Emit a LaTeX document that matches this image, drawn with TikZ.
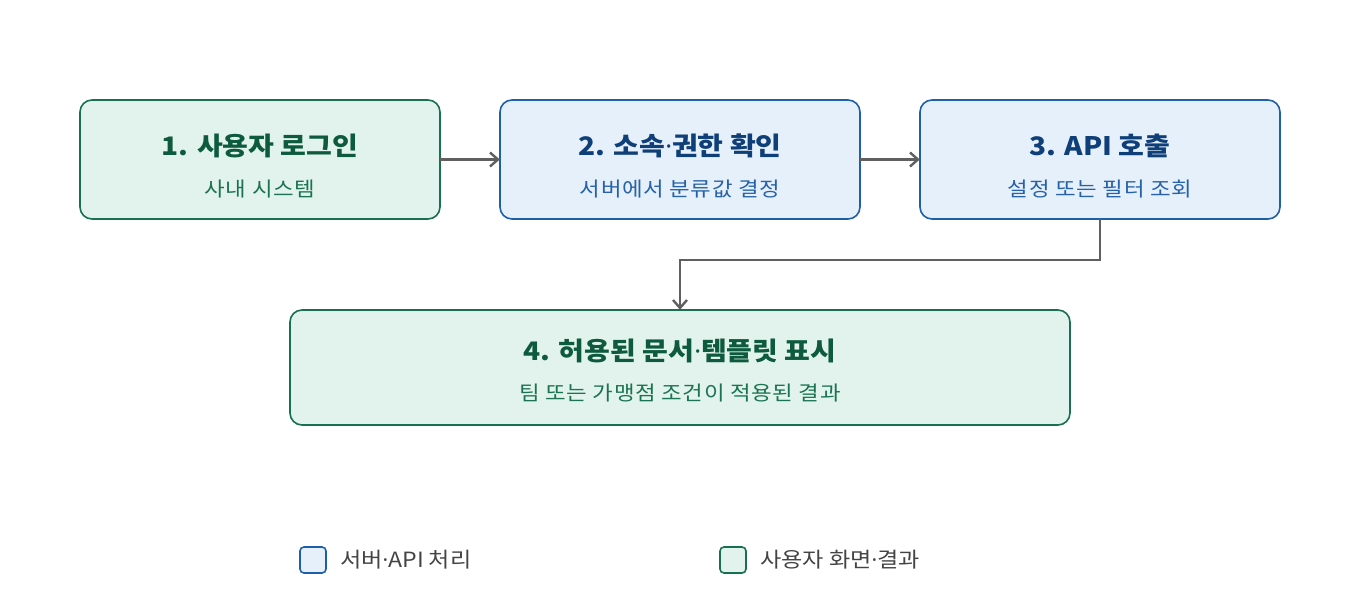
\documentclass[tikz,border=0pt]{standalone}
\usepackage{fontspec}
\setmainfont{Noto Sans CJK KR}
\newfontfamily\latinf{Noto Sans}
\newcommand{\mdot}{{\latinf ·}}
\usetikzlibrary{arrows.meta}
\definecolor{gstroke}{HTML}{17704F}
\definecolor{gfill}{HTML}{E1F3EC}
\definecolor{gtitle}{HTML}{0E5A3E}
\definecolor{gsub}{HTML}{1B7352}
\definecolor{bstroke}{HTML}{1F5FA8}
\definecolor{bfill}{HTML}{E6F0FB}
\definecolor{btitle}{HTML}{0F3F78}
\definecolor{bsub}{HTML}{2662A8}
\definecolor{arrowc}{HTML}{606060}
\definecolor{legtext}{HTML}{444444}
\tikzset{
  gbox/.style={draw=gstroke, fill=gfill, line width=1.6pt, rounded corners=12pt},
  bbox/.style={draw=bstroke, fill=bfill, line width=1.6pt, rounded corners=12pt},
  ttl/.style={font=\fontsize{25.5}{30}\selectfont\bfseries\addfontfeature{FakeStretch=1.1}, anchor=center, inner sep=0pt},
  sub/.style={font=\fontsize{20}{24}\selectfont\addfontfeature{FakeStretch=1.12,LetterSpace=3}, anchor=center, inner sep=0pt},
  conn/.style={draw=arrowc, line width=2.4pt, -{Straight Barb[length=8pt,width=14pt,line width=2.4pt]}},
  legbox/.style={rounded corners=4pt, line width=1.6pt, minimum width=26pt, minimum height=26pt, inner sep=0pt},
  legtxt/.style={font=\fontsize{21}{25}\selectfont\addfontfeature{FakeStretch=1.1}, text=legtext, anchor=west, inner sep=0pt}
}
\begin{document}
\begin{tikzpicture}[x=1pt,y=-1pt]
\useasboundingbox (0,0) rectangle (1360,600);
% boxes
\path[gbox] (80,100) rectangle (440,219);
\node[inner sep=0pt, minimum width=360pt, minimum height=119pt] (n1) at (260,159.5) {};
\path[bbox] (500,100) rectangle (860,219);
\node[inner sep=0pt, minimum width=360pt, minimum height=119pt] (n2) at (680,159.5) {};
\path[bbox] (920,100) rectangle (1280,219);
\node[inner sep=0pt, minimum width=360pt, minimum height=119pt] (n3) at (1100,159.5) {};
\path[gbox] (290,310) rectangle (1070,425);
\node[inner sep=0pt, minimum width=780pt, minimum height=115pt] (n4) at (680,367.5) {};
% texts
\node[ttl, text=gtitle] (t1) at (260,146) {1. 사용자 로그인};
\node[sub, text=gsub] (s1) at (260,189) {사내 시스템};
\node[ttl, text=btitle] (t2) at (680,146) {2. 소속\mdot 권한 확인};
\node[sub, text=bsub] (s2) at (680,189) {서버에서 분류값 결정};
\node[ttl, text=btitle] (t3) at (1100,146) {3. API 호출};
\node[sub, text=bsub] (s3) at (1100,189) {설정 또는 필터 조회};
\node[ttl, text=gtitle] (t4) at (680,351) {4. 허용된 문서\mdot 템플릿 표시};
\node[sub, text=gsub] (s4) at (680,393) {팀 또는 가맹점 조건이 적용된 결과};
% connectors
\draw[conn] (n1.east) -- (n2.west);
\draw[conn] (n2.east) -- (n3.west);
\coordinate (c1) at (1100,260);
\coordinate (c2) at (680,260);
\draw[conn] (n3.south) -- (c1) -- (c2) -- (n4.north);
% legend
\node[legbox, draw=bstroke, fill=bfill] (l1) at (313,560) {};
\node[legtxt] (lt1) at (340,560) {서버\mdot API 처리};
\node[legbox, draw=gstroke, fill=gfill] (l2) at (733,560) {};
\node[legtxt] (lt2) at (760,560) {사용자 화면\mdot 결과};
\end{tikzpicture}
\end{document}
